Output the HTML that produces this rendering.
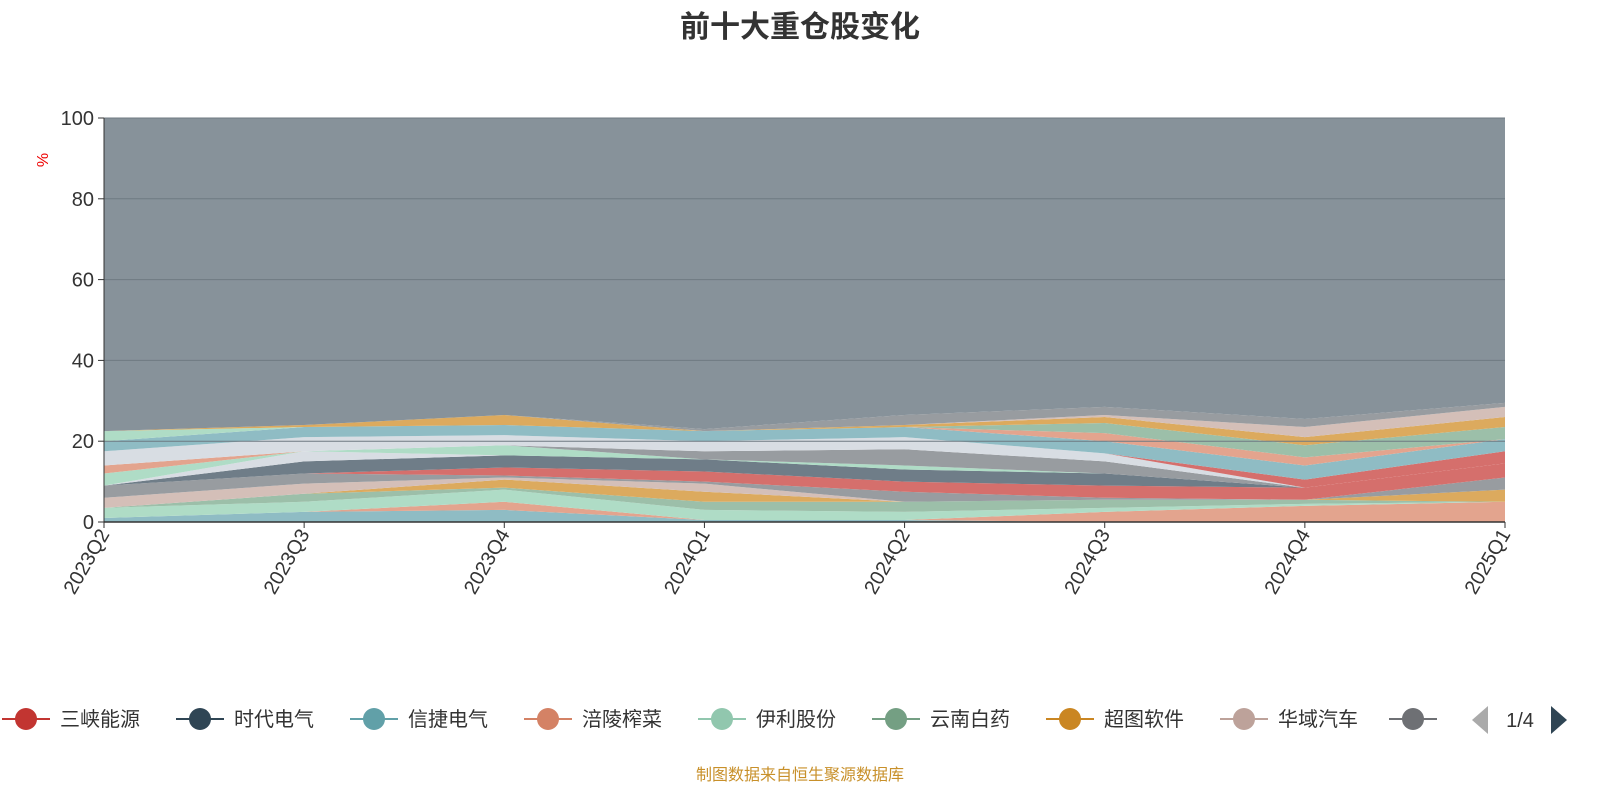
<!DOCTYPE html>
<html><head><meta charset="utf-8"><style>
body{margin:0;background:#fff;width:1600px;height:800px;overflow:hidden;font-family:"Liberation Sans","Noto Sans CJK SC",sans-serif}
</style></head><body>
<svg id="c" width="1600" height="800" xmlns="http://www.w3.org/2000/svg">
<text x="800" y="37" text-anchor="middle" font-size="30" font-weight="bold" fill="#333" font-family="Liberation Sans, Noto Sans CJK SC, sans-serif">前十大重仓股变化</text>
<text transform="translate(48,160) rotate(-90)" text-anchor="middle" font-size="16" fill="#e00">%</text>
<g id="areas"></g><g id="grid"></g><g id="axes"></g><g id="legend"></g>
<text x="800" y="780" text-anchor="middle" font-size="16" fill="#c8902a" font-family="Liberation Sans, Noto Sans CJK SC, sans-serif">制图数据来自恒生聚源数据库</text>
</svg>
<script>
const categories=["2023Q2","2023Q3","2023Q4","2024Q1","2024Q2","2024Q3","2024Q4","2025Q1"];
const yTicks=[0,20,40,60,80,100];
const seriesColors=["#8fbcc4","#e3a48e","#afdcc6","#9cbfa9","#dcaa5e","#d4bfb8","#989ca0","#d56f6c","#6f7d88","#d8dde3","#afdcc6","#e3a48e","#989ca0","#d8dde3","#d56f6c","#8fbcc4","#e3a48e","#9cbfa9","#afdcc6","#dcaa5e","#d4bfb8","#989ca0"];
const s1=[1,2.5,3,0.5,0.5,0,0,0];
const s2=[0,0,2,0,0,2.5,4,5];
const s3=[2.5,2.5,3,2.5,2,1,0.5,0];
const s4=[0,2,0.5,2,2.5,2,1,0];
const s5=[0,0,2,2.5,0,0,0,3];
const s6=[2.5,2.5,0.5,2,0,0,0,0];
const s7=[3,2.5,0.5,0.5,2.5,0.5,0,3];
const s8=[0,0,2,2.5,2.5,3,3,3.5];
const s9=[0,3,3,3,3,3,0,0];
const s10=[0,2.5,0,0,0,0,0,0];
const s11=[3,0,2.5,0,1,0,0,0];
const s12=[2,0,0,0,0,0,0,0];
const s13=[0,0,0,2,4,3,0,0];
const s14=[3.5,3.5,2.5,2.5,3,2,0,0];
const s15=[0,0,0,0,0,0,2,3];
const s17=[2.5,2.5,2.5,2.5,2.5,3,3.5,3];
const s18=[0,0,0,0,0,2,2,0];
const s19=[0,0,0,0,0,2.5,3,3];
const s20=[2.5,0,0,0,0,0,0,0];
const s21=[0,0.5,2.5,0,0.5,1.5,2,2.5];
const s22=[0,0,0,0,0,0.5,2.5,2.5];
const s23=[0,0,0,0.5,2.5,2,2,1];
const series=[s1,s2,s3,s4,s5,s6,s7,s8,s9,s10,s11,s12,s13,s14,s15,s17,s18,s19,s20,s21,s22,s23];
const legendNames=["三峡能源","时代电气","信捷电气","涪陵榨菜","伊利股份","云南白药","超图软件","华域汽车"];
const legendColors=["#c23531","#2f4554","#61a0a8","#d48265","#91c7ae","#749f83","#ca8622","#bda29a"];
const X0=104,X1=1505,Y0=522,Y1=118;
const xs=i=>X0+(X1-X0)*i/(categories.length-1);
const ys=v=>Y0-(Y0-Y1)*v/100;
const NS="http://www.w3.org/2000/svg";
function mk(t,a,p){const e=document.createElementNS(NS,t);for(const k in a)e.setAttribute(k,a[k]);p.appendChild(e);return e;}
const areas=document.getElementById('areas');
let cum=categories.map(()=>0);
series.forEach((s,si)=>{
 const lo=cum.slice();const hi=cum.map((c,i)=>c+s[i]);
 let d="M"+hi.map((v,i)=>xs(i)+","+ys(v)).join("L")+"L"+lo.map((v,i)=>xs(i)+","+ys(v)).reverse().join("L")+"Z";
 const p=mk('path',{d:d,fill:seriesColors[si]},areas);
 
 
 cum=hi;
});
{
 let d="M"+categories.map((c,i)=>xs(i)+","+ys(100)).join("L")+"L"+cum.map((v,i)=>xs(i)+","+ys(v)).reverse().join("L")+"Z";
 const p=mk('path',{d:d,fill:"#87929a"},areas);
 
 
}
const grid=document.getElementById('grid'),axes=document.getElementById('axes');
yTicks.forEach(t=>{
 if(t>0){const l=mk('line',{x1:X0,x2:X1,y1:ys(t),y2:ys(t),stroke:"#6f7a82","stroke-width":1},grid);
 
 }
 const tk=mk('line',{x1:X0-6,x2:X0,y1:ys(t),y2:ys(t),stroke:"#333"},axes);
 
 
 const tx=mk('text',{x:X0-10,y:ys(t)+7,"text-anchor":"end","font-size":20,fill:"#333"},axes);
 tx.textContent=t;
 
 
});
mk('line',{x1:X0,x2:X0,y1:Y1,y2:Y0,stroke:"#333"},axes);
mk('line',{x1:X0,x2:X1,y1:Y0,y2:Y0,stroke:"#333","stroke-width":1.5},axes);
categories.forEach((c,i)=>{
 const tk=mk('line',{x1:xs(i),x2:xs(i),y1:Y0,y2:Y0+6,stroke:"#333"},axes);
 
 
 const tx=mk('text',{transform:`translate(${xs(i)+6},${Y0+12}) rotate(-60)`,"text-anchor":"end","font-size":20,fill:"#333"},axes);
 tx.textContent=c;
 
 
});
const lg=document.getElementById('legend');
let lx=2;
legendNames.forEach((n,i)=>{
 const g=mk('g',{},lg);
 
 
 mk('line',{x1:lx,x2:lx+48,y1:719,y2:719,stroke:legendColors[i],"stroke-width":2},g);
 mk('circle',{cx:lx+24,cy:719,r:11,fill:legendColors[i]},g);
 const t=mk('text',{x:lx+58,y:726,"font-size":20,fill:"#333"},g);
 t.textContent=n;
 lx+=174;
});
{
 const g=mk('g',{},lg);
 
 
 mk('line',{x1:1389,x2:1437,y1:719,y2:719,stroke:"#6e7074","stroke-width":2},g);
 mk('circle',{cx:1413,cy:719,r:11,fill:"#6e7074"},g);
}
const pp=mk('polygon',{points:"1488,706 1488,734 1472,720",fill:"#aaa"},lg);


const pt=mk('text',{x:1520,y:727,"text-anchor":"middle","font-size":20,fill:"#333"},lg);
pt.textContent="1/4";


const pn=mk('polygon',{points:"1551,706 1551,734 1567,720",fill:"#2f4554"},lg);


</script>
</body></html>
